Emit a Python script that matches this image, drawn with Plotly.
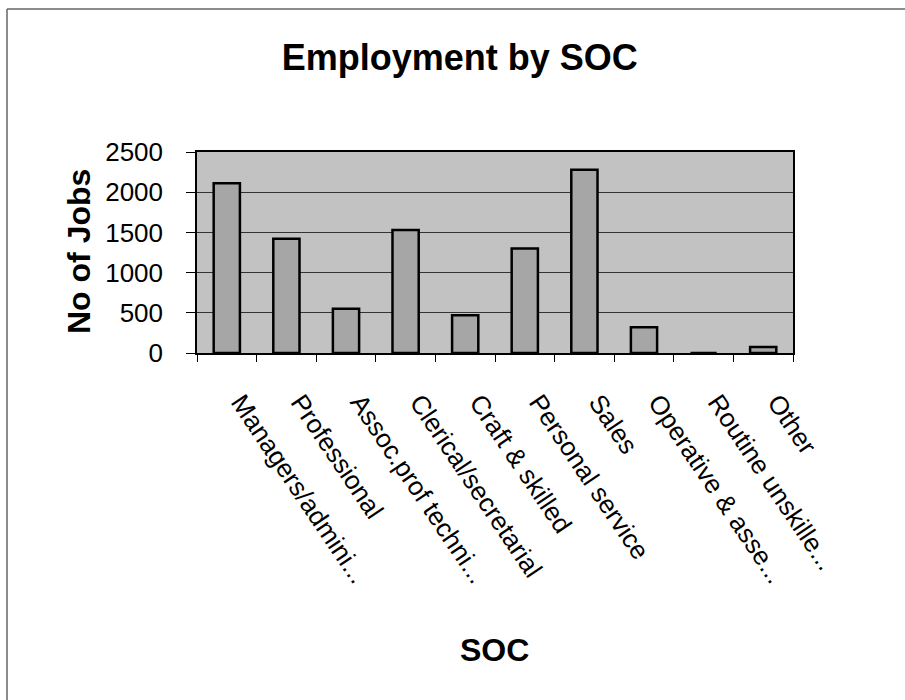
import plotly.graph_objects as go

# Employment by Standard Occupational Classification (SOC)
categories = [
    "Managers/admini...",
    "Professional",
    "Assoc.prof techni...",
    "Clerical/secretarial",
    "Craft & skilled",
    "Personal service",
    "Sales",
    "Operative & asse...",
    "Routine unskille...",
    "Other",
]
jobs = [2110, 1420, 550, 1530, 470, 1300, 2280, 320, 0, 75]
y_ticks = [0, 500, 1000, 1500, 2000, 2500]

FONT = "Liberation Sans, Arial, sans-serif"

# plot area in pixels
L, R, T, B = 197, 793, 152, 353
PW, PH = R - L, B - T


def px_x(x):
    return (x - L) / PW


def px_y(y):
    return (B - y) / PH


fig = go.Figure(
    go.Bar(
        x=categories,
        y=jobs,
        marker=dict(
            color="#a6a6a6",
            line=dict(color="#000000", width=2.5),
        ),
        hoverinfo="x+y",
    )
)

fig.update_layout(
    width=905,
    height=700,
    margin=dict(l=L, r=905 - R, t=T, b=700 - B),
    paper_bgcolor="#ffffff",
    plot_bgcolor="#c2c2c2",
    bargap=0.56,
    showlegend=False,
    font=dict(family=FONT, color="#000000"),
    title=dict(
        text="<b>Employment by SOC</b>",
        x=0.508,
        xanchor="center",
        y=1 - 57 / 700,
        yanchor="middle",
        xref="container",
        yref="container",
        font=dict(size=36, family=FONT, color="#000000"),
    ),
    xaxis=dict(
        type="category",
        tickangle=56,
        tickfont=dict(size=26, family=FONT),
        ticks="outside",
        tickson="boundaries",
        ticklen=7,
        tickcolor="#000000",
        ticklabelstandoff=22,
        ticklabelshift=14,
        showline=True,
        linecolor="#000000",
        linewidth=1.5,
        mirror=True,
        showgrid=False,
        automargin=False,
    ),
    yaxis=dict(
        range=[0, 2500],
        tickvals=y_ticks,
        tickfont=dict(size=26, family=FONT),
        ticks="outside",
        ticklen=9,
        tickcolor="#000000",
        ticklabelstandoff=18,
        showline=True,
        linecolor="#000000",
        linewidth=1.5,
        mirror=True,
        showgrid=True,
        gridcolor="#333333",
        gridwidth=1,
        zeroline=False,
        automargin=False,
    ),
    annotations=[
        dict(
            text="<b>SOC</b>",
            xref="paper", yref="paper",
            x=px_x(494), y=px_y(650),
            xanchor="center", yanchor="middle",
            showarrow=False,
            font=dict(size=32, family=FONT),
        ),
        dict(
            text="<b>No of Jobs</b>",
            xref="paper", yref="paper",
            x=px_x(79), y=px_y(252),
            xanchor="center", yanchor="middle",
            textangle=-90,
            showarrow=False,
            font=dict(size=32, family=FONT),
        ),
    ],
)

# thin frame along the top and left edges of the page
fig.add_shape(type="line", xref="paper", yref="paper",
              x0=px_x(7), x1=px_x(905), y0=px_y(9), y1=px_y(9),
              line=dict(color="#666666", width=1.5))
fig.add_shape(type="line", xref="paper", yref="paper",
              x0=px_x(7), x1=px_x(7), y0=px_y(9), y1=px_y(700),
              line=dict(color="#666666", width=1.5))

fig.write_html("out.html")
